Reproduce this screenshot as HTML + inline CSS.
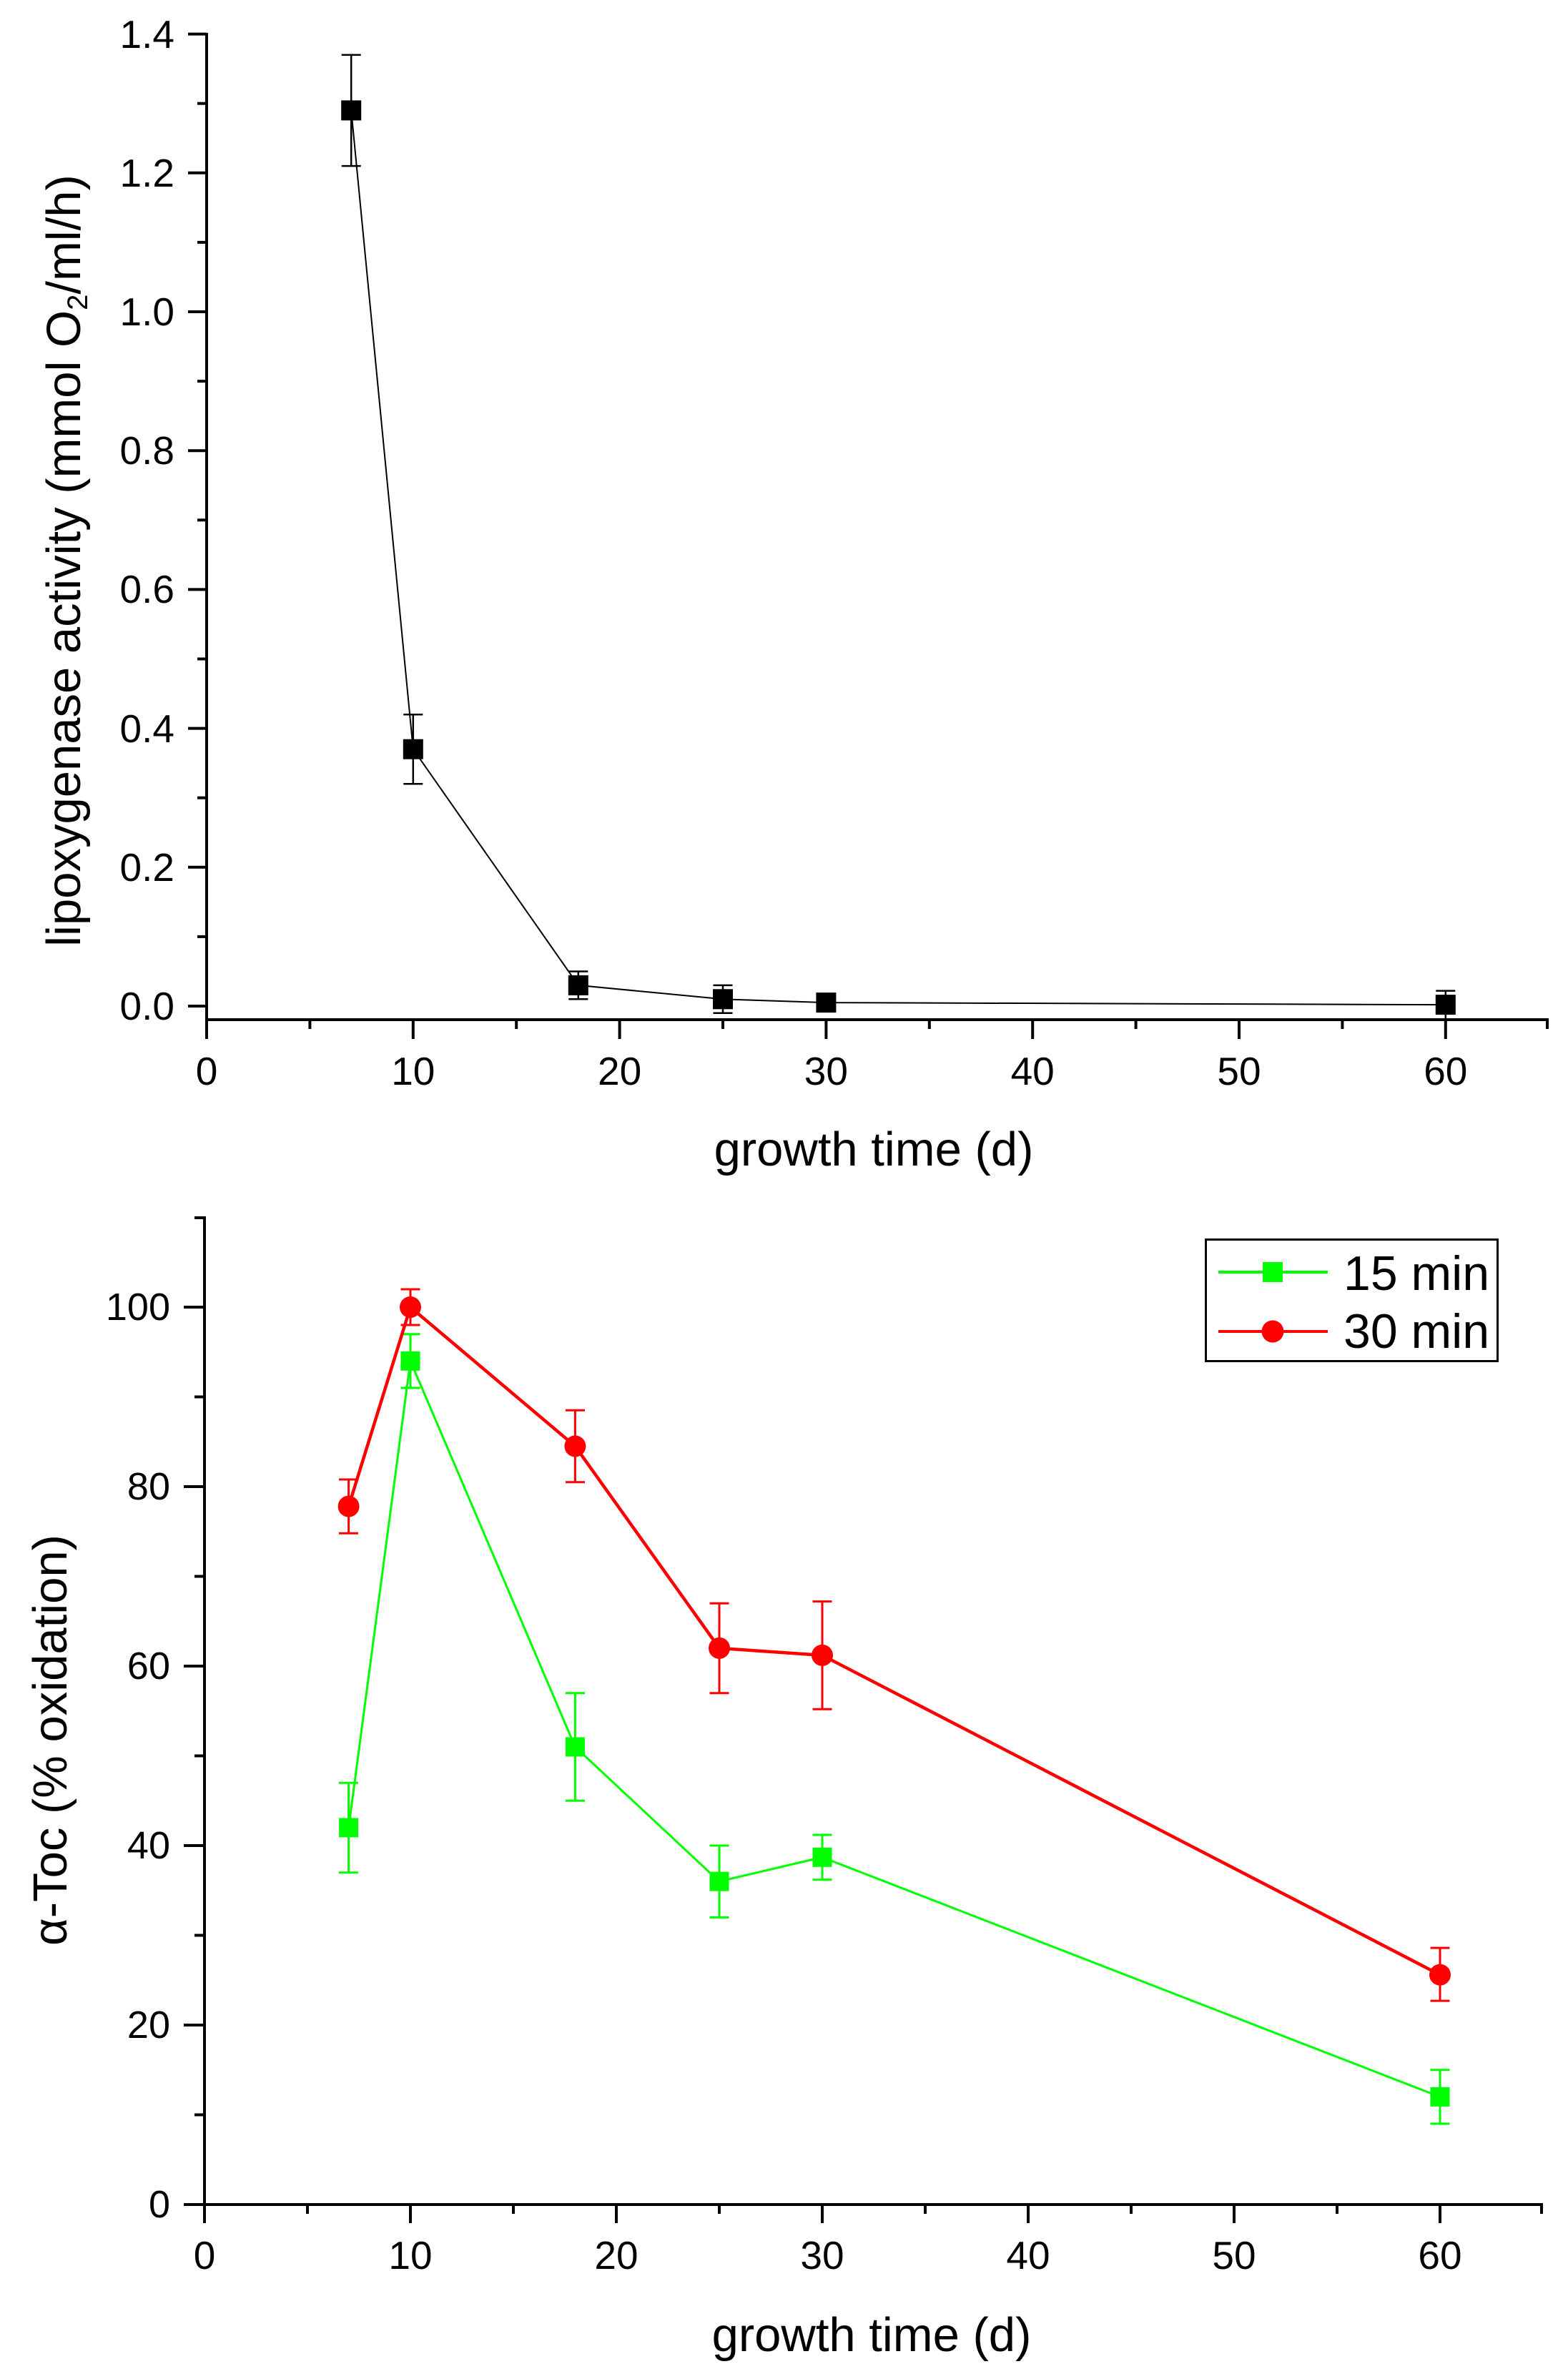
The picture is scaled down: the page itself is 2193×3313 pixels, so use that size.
<!DOCTYPE html>
<html>
<head>
<meta charset="utf-8">
<style>
html,body{margin:0;padding:0;background:#fff;}
svg{display:block;}
text{font-family:"Liberation Sans",Arial,sans-serif;fill:#000;}
</style>
</head>
<body>
<svg width="2193" height="3313" viewBox="0 0 2193 3313" xmlns="http://www.w3.org/2000/svg">
<rect x="0" y="0" width="2193" height="3313" fill="#fff"/>

<!-- ================= TOP PLOT ================= -->
<g stroke="#000" stroke-width="4" fill="none" stroke-linecap="butt">
  <!-- axes -->
  <line x1="289" y1="46" x2="289" y2="1453"/>
  <line x1="287" y1="1426" x2="2166" y2="1426"/>
  <!-- y major ticks -->
  <line x1="263" y1="1407" x2="289" y2="1407"/>
  <line x1="263" y1="1212.8" x2="289" y2="1212.8"/>
  <line x1="263" y1="1018.6" x2="289" y2="1018.6"/>
  <line x1="263" y1="824.4" x2="289" y2="824.4"/>
  <line x1="263" y1="630.2" x2="289" y2="630.2"/>
  <line x1="263" y1="436" x2="289" y2="436"/>
  <line x1="263" y1="241.8" x2="289" y2="241.8"/>
  <line x1="263" y1="47.6" x2="289" y2="47.6"/>
  <!-- y minor ticks -->
  <line x1="276" y1="1309.9" x2="289" y2="1309.9"/>
  <line x1="276" y1="1115.7" x2="289" y2="1115.7"/>
  <line x1="276" y1="921.5" x2="289" y2="921.5"/>
  <line x1="276" y1="727.3" x2="289" y2="727.3"/>
  <line x1="276" y1="533.1" x2="289" y2="533.1"/>
  <line x1="276" y1="338.9" x2="289" y2="338.9"/>
  <line x1="276" y1="144.7" x2="289" y2="144.7"/>
  <!-- x major ticks -->
  <line x1="577.8" y1="1426" x2="577.8" y2="1453"/>
  <line x1="866.6" y1="1426" x2="866.6" y2="1453"/>
  <line x1="1155.4" y1="1426" x2="1155.4" y2="1453"/>
  <line x1="1444.2" y1="1426" x2="1444.2" y2="1453"/>
  <line x1="1733" y1="1426" x2="1733" y2="1453"/>
  <line x1="2021.8" y1="1426" x2="2021.8" y2="1453"/>
  <!-- x minor ticks -->
  <line x1="433.4" y1="1426" x2="433.4" y2="1439"/>
  <line x1="722.2" y1="1426" x2="722.2" y2="1439"/>
  <line x1="1011" y1="1426" x2="1011" y2="1439"/>
  <line x1="1299.8" y1="1426" x2="1299.8" y2="1439"/>
  <line x1="1588.6" y1="1426" x2="1588.6" y2="1439"/>
  <line x1="1877.4" y1="1426" x2="1877.4" y2="1439"/>
  <line x1="2164" y1="1426" x2="2164" y2="1439"/>
</g>

<!-- top tick labels -->
<g font-size="55" text-anchor="end">
  <text x="244" y="1426">0.0</text>
  <text x="244" y="1232">0.2</text>
  <text x="244" y="1038">0.4</text>
  <text x="244" y="843">0.6</text>
  <text x="244" y="649">0.8</text>
  <text x="244" y="455">1.0</text>
  <text x="244" y="261">1.2</text>
  <text x="244" y="67">1.4</text>
</g>
<g font-size="55" text-anchor="middle">
  <text x="289" y="1517">0</text>
  <text x="577.8" y="1517">10</text>
  <text x="866.6" y="1517">20</text>
  <text x="1155.4" y="1517">30</text>
  <text x="1444.2" y="1517">40</text>
  <text x="1733" y="1517">50</text>
  <text x="2021.8" y="1517">60</text>
</g>

<!-- top titles -->
<text x="1222" y="1630" font-size="67" text-anchor="middle">growth time (d)</text>
<text transform="translate(112,784) rotate(-90)" font-size="67" text-anchor="middle">lipoxygenase activity (mmol O<tspan font-size="40" dy="10">2</tspan><tspan font-size="67" dy="-10">/ml/h)</tspan></text>

<!-- top data -->
<polyline fill="none" stroke="#000" stroke-width="2" points="491.2,154.4 577.8,1047.7 808.8,1377.9 1011,1397.3 1155.4,1402.1 2021.8,1405.1"/>
<g stroke="#000" stroke-width="2.5" fill="none">
  <line x1="491.2" y1="76.7" x2="491.2" y2="232.1"/>
  <line x1="477.7" y1="76.7" x2="504.7" y2="76.7"/>
  <line x1="477.7" y1="232.1" x2="504.7" y2="232.1"/>
  <line x1="577.8" y1="999.2" x2="577.8" y2="1096.3"/>
  <line x1="564.3" y1="999.2" x2="591.3" y2="999.2"/>
  <line x1="564.3" y1="1096.3" x2="591.3" y2="1096.3"/>
  <line x1="808.8" y1="1358.5" x2="808.8" y2="1397.3"/>
  <line x1="795.3" y1="1358.5" x2="822.3" y2="1358.5"/>
  <line x1="795.3" y1="1397.3" x2="822.3" y2="1397.3"/>
  <line x1="1011" y1="1377.9" x2="1011" y2="1416.7"/>
  <line x1="997.5" y1="1377.9" x2="1024.5" y2="1377.9"/>
  <line x1="997.5" y1="1416.7" x2="1024.5" y2="1416.7"/>
  <line x1="2021.8" y1="1385.6" x2="2021.8" y2="1424.5"/>
  <line x1="2008.3" y1="1385.6" x2="2035.3" y2="1385.6"/>
</g>
<g fill="#000">
  <rect x="477.2" y="140.4" width="28" height="28"/>
  <rect x="563.8" y="1033.7" width="28" height="28"/>
  <rect x="794.8" y="1363.9" width="28" height="28"/>
  <rect x="997" y="1383.3" width="28" height="28"/>
  <rect x="1141.4" y="1388.1" width="28" height="28"/>
  <rect x="2007.8" y="1391.1" width="28" height="28"/>
</g>

<!-- ================= BOTTOM PLOT ================= -->
<g stroke="#000" stroke-width="4" fill="none">
  <line x1="286" y1="1701" x2="286" y2="3109"/>
  <line x1="257" y1="3083" x2="2158" y2="3083"/>
  <!-- y major ticks -->
  <line x1="257" y1="2832" x2="286" y2="2832"/>
  <line x1="257" y1="2581" x2="286" y2="2581"/>
  <line x1="257" y1="2330" x2="286" y2="2330"/>
  <line x1="257" y1="2079" x2="286" y2="2079"/>
  <line x1="257" y1="1828" x2="286" y2="1828"/>
  <!-- y minor ticks -->
  <line x1="272" y1="2957.5" x2="286" y2="2957.5"/>
  <line x1="272" y1="2706.5" x2="286" y2="2706.5"/>
  <line x1="272" y1="2455.5" x2="286" y2="2455.5"/>
  <line x1="272" y1="2204.5" x2="286" y2="2204.5"/>
  <line x1="272" y1="1953.5" x2="286" y2="1953.5"/>
  <line x1="272" y1="1703" x2="286" y2="1703"/>
  <!-- x major ticks -->
  <line x1="574" y1="3083" x2="574" y2="3109"/>
  <line x1="862" y1="3083" x2="862" y2="3109"/>
  <line x1="1150" y1="3083" x2="1150" y2="3109"/>
  <line x1="1438" y1="3083" x2="1438" y2="3109"/>
  <line x1="1726" y1="3083" x2="1726" y2="3109"/>
  <line x1="2014" y1="3083" x2="2014" y2="3109"/>
  <!-- x minor ticks -->
  <line x1="430" y1="3083" x2="430" y2="3096"/>
  <line x1="718" y1="3083" x2="718" y2="3096"/>
  <line x1="1006" y1="3083" x2="1006" y2="3096"/>
  <line x1="1294" y1="3083" x2="1294" y2="3096"/>
  <line x1="1582" y1="3083" x2="1582" y2="3096"/>
  <line x1="1870" y1="3083" x2="1870" y2="3096"/>
  <line x1="2156" y1="3083" x2="2156" y2="3096"/>
</g>

<g font-size="54" text-anchor="end">
  <text x="238" y="3101">0</text>
  <text x="238" y="2850">20</text>
  <text x="238" y="2599">40</text>
  <text x="238" y="2348">60</text>
  <text x="238" y="2097">80</text>
  <text x="238" y="1846">100</text>
</g>
<g font-size="55" text-anchor="middle">
  <text x="286" y="3173">0</text>
  <text x="574" y="3173">10</text>
  <text x="862" y="3173">20</text>
  <text x="1150" y="3173">30</text>
  <text x="1438" y="3173">40</text>
  <text x="1726" y="3173">50</text>
  <text x="2014" y="3173">60</text>
</g>

<text x="1219" y="3288" font-size="67" text-anchor="middle">growth time (d)</text>
<text transform="translate(93,2146) rotate(-90)" font-size="67" text-anchor="end">α-Toc (% oxidation)</text>

<!-- green series (15 min) -->
<polyline fill="none" stroke="#00ff00" stroke-width="3" points="487.6,2555.9 574,1903.3 804.4,2443 1006,2631.2 1150,2597.3 2014,2932.4"/>
<g stroke="#00ff00" stroke-width="3" fill="none">
  <line x1="487.6" y1="2493.2" x2="487.6" y2="2618.7"/>
  <line x1="474" y1="2493.2" x2="501" y2="2493.2"/>
  <line x1="474" y1="2618.7" x2="501" y2="2618.7"/>
  <line x1="574" y1="1865.7" x2="574" y2="1941"/>
  <line x1="560.5" y1="1865.7" x2="587.5" y2="1865.7"/>
  <line x1="560.5" y1="1941" x2="587.5" y2="1941"/>
  <line x1="804.4" y1="2367.7" x2="804.4" y2="2518.2"/>
  <line x1="791" y1="2367.7" x2="818" y2="2367.7"/>
  <line x1="791" y1="2518.2" x2="818" y2="2518.2"/>
  <line x1="1006" y1="2581" x2="1006" y2="2681.4"/>
  <line x1="992.5" y1="2581" x2="1019.5" y2="2581"/>
  <line x1="992.5" y1="2681.4" x2="1019.5" y2="2681.4"/>
  <line x1="1150" y1="2566" x2="1150" y2="2628.7"/>
  <line x1="1136.5" y1="2566" x2="1163.5" y2="2566"/>
  <line x1="1136.5" y1="2628.7" x2="1163.5" y2="2628.7"/>
  <line x1="2014" y1="2894.8" x2="2014" y2="2970"/>
  <line x1="2000.5" y1="2894.8" x2="2027.5" y2="2894.8"/>
  <line x1="2000.5" y1="2970" x2="2027.5" y2="2970"/>
</g>
<g fill="#00ff00">
  <rect x="474.1" y="2542.4" width="27" height="27"/>
  <rect x="560.5" y="1889.8" width="27" height="27"/>
  <rect x="790.9" y="2429.5" width="27" height="27"/>
  <rect x="992.5" y="2617.7" width="27" height="27"/>
  <rect x="1136.5" y="2583.8" width="27" height="27"/>
  <rect x="2000.5" y="2918.9" width="27" height="27"/>
</g>

<!-- red series (30 min) -->
<polyline fill="none" stroke="#ff0000" stroke-width="4.5" points="487.6,2106.6 574,1828 804.4,2022.5 1006,2304.9 1150,2314.9 2014,2761.7"/>
<g stroke="#ff0000" stroke-width="3" fill="none">
  <line x1="487.6" y1="2069" x2="487.6" y2="2144.3"/>
  <line x1="474" y1="2069" x2="501" y2="2069"/>
  <line x1="474" y1="2144.3" x2="501" y2="2144.3"/>
  <line x1="574" y1="1803" x2="574" y2="1853"/>
  <line x1="560.5" y1="1803" x2="587.5" y2="1803"/>
  <line x1="560.5" y1="1853" x2="587.5" y2="1853"/>
  <line x1="804.4" y1="1972.3" x2="804.4" y2="2072.7"/>
  <line x1="791" y1="1972.3" x2="818" y2="1972.3"/>
  <line x1="791" y1="2072.7" x2="818" y2="2072.7"/>
  <line x1="1006" y1="2242.2" x2="1006" y2="2367.7"/>
  <line x1="992.5" y1="2242.2" x2="1019.5" y2="2242.2"/>
  <line x1="992.5" y1="2367.7" x2="1019.5" y2="2367.7"/>
  <line x1="1150" y1="2239.6" x2="1150" y2="2390.2"/>
  <line x1="1136.5" y1="2239.6" x2="1163.5" y2="2239.6"/>
  <line x1="1136.5" y1="2390.2" x2="1163.5" y2="2390.2"/>
  <line x1="2014" y1="2724.1" x2="2014" y2="2798.1"/>
  <line x1="2000.5" y1="2724.1" x2="2027.5" y2="2724.1"/>
  <line x1="2000.5" y1="2798.1" x2="2027.5" y2="2798.1"/>
</g>
<g fill="#ff0000">
  <circle cx="487.6" cy="2106.6" r="15"/>
  <circle cx="574" cy="1828" r="15"/>
  <circle cx="804.4" cy="2022.5" r="15"/>
  <circle cx="1006" cy="2304.9" r="15"/>
  <circle cx="1150" cy="2314.9" r="15"/>
  <circle cx="2014" cy="2761.7" r="15"/>
</g>

<!-- legend -->
<rect x="1686.5" y="1733.5" width="408" height="170" fill="#fff" stroke="#000" stroke-width="3"/>
<line x1="1704" y1="1779" x2="1857" y2="1779" stroke="#00ff00" stroke-width="4"/>
<rect x="1766" y="1765" width="28" height="28" fill="#00ff00"/>
<line x1="1704" y1="1862" x2="1857" y2="1862" stroke="#ff0000" stroke-width="4"/>
<circle cx="1780" cy="1862" r="15.5" fill="#ff0000"/>
<text x="1879" y="1804" font-size="68">15 min</text>
<text x="1879" y="1885" font-size="68">30 min</text>
</svg>
</body>
</html>
